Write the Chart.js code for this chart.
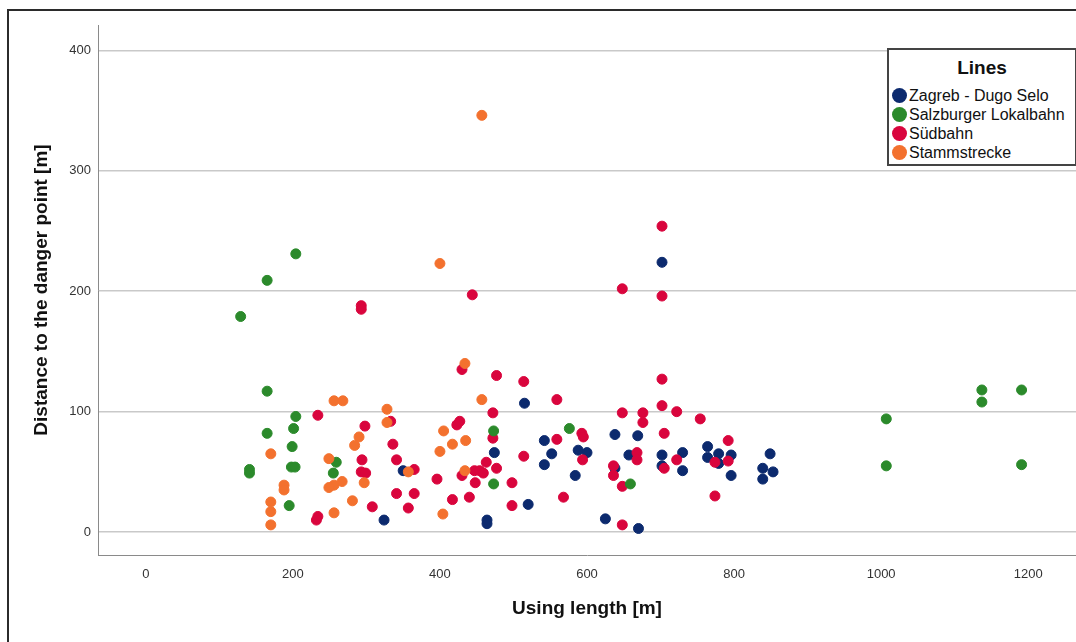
<!DOCTYPE html>
<html>
<head>
<meta charset="utf-8">
<script src="https://cdn.jsdelivr.net/npm/chart.js@4.4.1/dist/chart.umd.min.js"></script>
<style>
  body { margin: 0; background: #fff; overflow: hidden; }
  #wrap { position: relative; width: 1076px; height: 642px; overflow: hidden; font-family: "Liberation Sans", Arial, sans-serif; }
  #frame { position: absolute; left: 7px; top: 9px; width: 1200px; height: 800px; border: 2px solid #2b2b2b; pointer-events: none; }
  #legend { position: absolute; left: 887px; top: 48px; width: 186px; height: 114px; border: 2px solid #444; background: #fff; }
  #legend .title { position: absolute; left: 0; width: 100%; top: 7px; text-align: center; font-weight: bold; font-size: 19px; color: #111; }
  #legend .item { position: absolute; left: 3px; font-size: 16px; color: #111; white-space: nowrap; line-height: 19px; }
  #legend .dot { display: inline-block; width: 15px; height: 15px; border-radius: 50%; vertical-align: -2px; margin-right: 2px; }
</style>
</head>
<body>
<div id="wrap">
  <canvas id="myChart" width="1076" height="642"></canvas>
  <div id="legend"><div class="title">Lines</div></div>
  <div id="frame"></div>
</div>
<script>
// Linien und Farben
const seriesNames = ['Zagreb - Dugo Selo', 'Salzburger Lokalbahn', 'Südbahn', 'Stammstrecke'];
const seriesColors = ['#0c2a6e', '#2b8a2b', '#d9053d', '#f3712e'];

// [Nutzlänge, Abstand zum Gefahrpunkt]
const zagreb = [
    [324, 10], [350, 51], [464, 10], [464, 7], [474, 66], [515, 107], [520, 23], [542, 76],
    [542, 56], [552, 65], [584, 47], [588, 68], [600, 66], [625, 11], [638, 81], [638, 53],
    [657, 64], [669, 80], [670, 3], [702, 224], [702, 64], [702, 55], [730, 66], [730, 51],
    [764, 71], [764, 62], [779, 65], [779, 57], [796, 64], [796, 47], [839, 53], [839, 44],
    [849, 65], [853, 50]
];
const salzburg = [
    [129, 179], [165, 209], [204, 231], [165, 117], [204, 96], [201, 86], [165, 82], [199, 71],
    [198, 54], [203, 54], [141, 52], [141, 49], [195, 22], [259, 58], [255, 49], [473, 84],
    [473, 40], [576, 86], [659, 40], [1007, 94], [1007, 55], [1137, 118], [1137, 108],
    [1191, 118], [1191, 56]
];
const suedbahn = [
    [444, 197], [293, 188], [293, 185], [430, 135], [234, 97], [298, 88], [333, 92], [336, 73],
    [341, 60], [294, 60], [293, 50], [299, 49], [365, 52], [423, 89], [427, 92], [396, 44],
    [430, 47], [447, 51], [341, 32], [365, 32], [417, 27], [440, 29], [308, 21], [357, 20],
    [234, 13], [232, 10], [477, 130], [514, 125], [559, 110], [472, 99], [472, 78], [559, 77],
    [593, 82], [595, 79], [594, 60], [514, 63], [477, 53], [463, 58], [454, 51], [459, 49],
    [448, 41], [498, 41], [498, 22], [568, 29], [702, 254], [648, 202], [702, 196], [702, 127],
    [702, 105], [648, 99], [676, 99], [676, 91], [722, 100], [754, 94], [705, 82], [792, 76],
    [668, 66], [668, 60], [636, 55], [636, 47], [722, 60], [705, 53], [774, 58], [792, 59],
    [648, 38], [774, 30], [648, 6]
];
const stammstrecke = [
    [457, 346], [400, 223], [434, 140], [457, 110], [256, 109], [268, 109], [328, 102], [328, 91],
    [405, 84], [290, 79], [435, 76], [417, 73], [284, 72], [400, 67], [170, 65], [249, 61],
    [357, 50], [434, 51], [267, 42], [297, 41], [256, 39], [188, 39], [249, 37], [188, 35],
    [281, 26], [170, 25], [170, 17], [256, 16], [404, 15], [170, 6]
];

const xTicks = [0, 200, 400, 600, 800, 1000, 1200];
const yTicks = [0, 100, 200, 300, 400];

// Zeichenreihenfolge: Stammstrecke oben, Zagreb unten
const drawOrder = [3, 1, 2, 0];
const allSeries = [zagreb, salzburg, suedbahn, stammstrecke];

const fontFamily = '"Liberation Sans", Arial, sans-serif';

const datasets = allSeries.map((pts, i) => ({
    label: seriesNames[i],
    data: pts.map(p => ({ x: p[0], y: p[1] })),
    backgroundColor: seriesColors[i],
    borderColor: seriesColors[i],
    borderWidth: 1,
    pointRadius: 5,
    pointHoverRadius: 5,
    order: drawOrder[i]
}));

const ctx = document.getElementById('myChart').getContext('2d');
const myChart = new Chart(ctx, {
    type: 'scatter',
    data: { datasets: datasets },
    options: {
        responsive: false,
        animation: false,
        layout: { autoPadding: false, padding: { top: 25, right: 0, left: 0, bottom: 0 } },
        plugins: {
            legend: { display: false },
            tooltip: { enabled: false }
        },
        scales: {
            x: {
                type: 'linear',
                min: -65,
                max: 1265,
                afterBuildTicks: s => { s.ticks = xTicks.map(v => ({ value: v })); },
                afterFit: s => { s.height = 87; },
                grid: { color: 'rgba(0,0,0,0)', drawTicks: false },
                border: { display: true, color: '#8a8a8a', width: 1 },
                ticks: {
                    padding: 12,
                    color: '#333',
                    font: { family: fontFamily, size: 13 },
                    callback: v => String(v)
                },
                title: {
                    display: true,
                    text: 'Using length [m]',
                    color: '#111',
                    font: { family: fontFamily, size: 19, weight: 'bold' },
                    padding: { top: 0, bottom: 22 }
                }
            },
            y: {
                min: -19,
                max: 421,
                afterBuildTicks: s => { s.ticks = yTicks.map(v => ({ value: v })); },
                afterFit: s => { s.width = 98; },
                grid: { color: '#c9c9c9', lineWidth: 1.5, drawTicks: false },
                border: { display: true, color: '#8a8a8a', width: 1 },
                ticks: {
                    padding: 7,
                    color: '#333',
                    font: { family: fontFamily, size: 13 },
                    callback: v => String(v)
                },
                title: {
                    display: true,
                    text: 'Distance to the danger point [m]',
                    color: '#111',
                    font: { family: fontFamily, size: 19, weight: 'bold' },
                    padding: { top: 30, bottom: 0 }
                }
            }
        }
    }
});

// Legende mit Titel "Lines"
const legend = document.getElementById('legend');
const rowTops = [36, 55, 74, 93];
seriesNames.forEach((name, i) => {
    const item = document.createElement('div');
    item.className = 'item';
    item.style.top = rowTops[i] + 'px';
    item.innerHTML = '<span class="dot" style="background:' + seriesColors[i] + '"></span>' + name;
    legend.appendChild(item);
});
</script>
</body>
</html>
